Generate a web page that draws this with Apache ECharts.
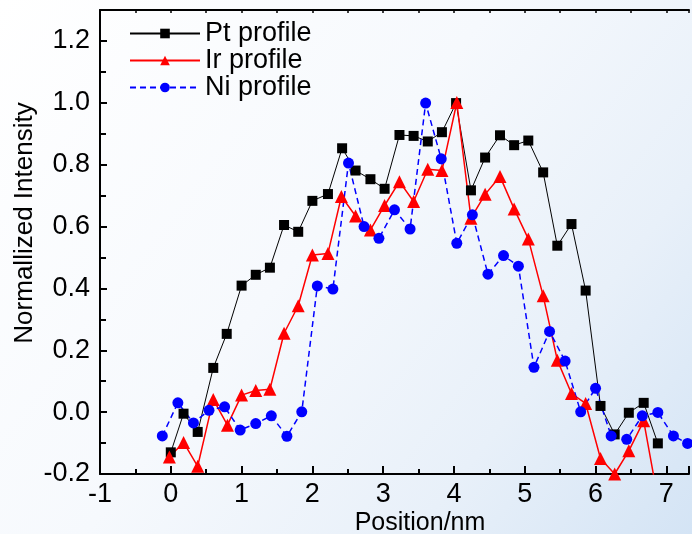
<!DOCTYPE html>
<html>
<head>
<meta charset="utf-8">
<script src="https://cdn.jsdelivr.net/npm/echarts@6/dist/echarts.min.js"></script>
<style>html,body{margin:0;padding:0;}#c{width:692px;height:534px;}</style>
</head>
<body>
<div id="c"></div>
<script>
var seriesNames = ['Pt profile', 'Ir profile', 'Ni profile'];
var ptX = [0, 0.18, 0.38, 0.6, 0.79, 1.0, 1.2, 1.4, 1.6, 1.8, 2.0, 2.22, 2.42, 2.61, 2.82, 3.02, 3.23, 3.43, 3.63, 3.83, 4.03, 4.24, 4.44, 4.65, 4.85, 5.05, 5.26, 5.46, 5.66, 5.86, 6.07, 6.27, 6.47, 6.68, 6.88];
var ptY = [-0.13, -0.005, -0.064, 0.143, 0.253, 0.409, 0.444, 0.467, 0.605, 0.583, 0.683, 0.705, 0.853, 0.781, 0.753, 0.722, 0.896, 0.893, 0.875, 0.905, 0.999, 0.717, 0.823, 0.895, 0.863, 0.878, 0.775, 0.538, 0.608, 0.393, 0.020, -0.072, -0.002, 0.030, -0.101];
var irX = [-0.02, 0.18, 0.38, 0.6, 0.8, 1.0, 1.2, 1.4, 1.6, 1.8, 2.0, 2.22, 2.41, 2.61, 2.82, 3.02, 3.23, 3.43, 3.63, 3.83, 4.04, 4.24, 4.44, 4.65, 4.85, 5.05, 5.26, 5.46, 5.66, 5.86, 6.07, 6.27, 6.47, 6.68, 6.88];
var irY = [-0.145, -0.098, -0.175, 0.041, -0.042, 0.055, 0.070, 0.074, 0.255, 0.344, 0.508, 0.513, 0.697, 0.634, 0.589, 0.668, 0.745, 0.681, 0.785, 0.781, 1.001, 0.627, 0.704, 0.762, 0.657, 0.560, 0.376, 0.168, 0.060, 0.028, -0.150, -0.2, -0.125, -0.028, -0.28];
var niX = [-0.12, 0.10, 0.32, 0.54, 0.76, 0.98, 1.2, 1.42, 1.64, 1.85, 2.07, 2.29, 2.51, 2.73, 2.94, 3.16, 3.38, 3.60, 3.82, 4.04, 4.26, 4.48, 4.70, 4.91, 5.13, 5.35, 5.57, 5.79, 6.0, 6.22, 6.44, 6.66, 6.88, 7.10, 7.30];
var niY = [-0.077, 0.030, -0.035, 0.006, 0.017, -0.058, -0.037, -0.012, -0.078, 0.001, 0.408, 0.398, 0.805, 0.600, 0.562, 0.654, 0.592, 0.999, 0.819, 0.546, 0.638, 0.446, 0.506, 0.472, 0.145, 0.261, 0.165, 0.001, 0.077, -0.077, -0.088, -0.012, -0.001, -0.077, -0.101];
var xName = 'Position/nm';
var yName = 'Normallized Intensity';

function pairs(xs, ys) { return xs.map(function (x, i) { return [x, ys[i]]; }); }

var FONT = '"Liberation Sans", Arial, sans-serif';
var X_MIN = -1, X_MAX = 7.32, Y_MIN = -0.2, Y_MAX = 1.3;

var chart = echarts.init(document.getElementById('c'), null, { renderer: 'canvas' });
chart.setOption({
  animation: false,
  backgroundColor: {
    type: 'linear', x: 0, y: 0, x2: 1, y2: 1,
    colorStops: [
      { offset: 0, color: '#ffffff' },
      { offset: 0.45, color: '#f6f9fd' },
      { offset: 0.75, color: '#e8f0f9' },
      { offset: 1, color: '#d4e4f5' }
    ]
  },
  grid: { left: 100, right: 0, top: 10, bottom: 60 },
  legend: {
    orient: 'vertical',
    left: 129, top: 20, padding: 0,
    itemWidth: 70, itemHeight: 12, itemGap: 0,
    textStyle: { fontFamily: FONT, fontSize: 27, color: '#000', lineHeight: 25 },
    data: seriesNames
  },
  xAxis: [
    {
      type: 'value', min: X_MIN, max: X_MAX, interval: 1, position: 'bottom',
      axisLine: { onZero: false, lineStyle: { color: '#000', width: 2 } },
      axisTick: { inside: true, length: 8, lineStyle: { color: '#000', width: 2 } },
      axisLabel: {
        color: '#000', fontFamily: FONT, fontSize: 27, margin: 7,
        formatter: function (v) { return Math.abs(v - Math.round(v)) < 1e-6 ? String(Math.round(v)) : ''; }
      },
      splitLine: { show: false }
    },
    {
      type: 'value', min: X_MIN, max: X_MAX, interval: 0.5, position: 'bottom',
      axisLine: { show: false, onZero: false },
      axisTick: { inside: true, length: 5, lineStyle: { color: '#000', width: 2 } },
      axisLabel: { show: false },
      splitLine: { show: false }
    },
    {
      type: 'value', min: X_MIN, max: X_MAX, interval: 0.5, position: 'top',
      axisLine: { onZero: false, lineStyle: { color: '#000', width: 2 } },
      axisTick: { inside: true, length: 3, lineStyle: { color: '#000', width: 1.5 } },
      axisLabel: { show: false },
      splitLine: { show: false }
    }
  ],
  yAxis: [
    {
      type: 'value', min: Y_MIN, max: Y_MAX, interval: 0.2, position: 'left',
      axisLine: { onZero: false, lineStyle: { color: '#000', width: 2 } },
      axisTick: { inside: true, length: 7, lineStyle: { color: '#000', width: 2 } },
      axisLabel: {
        color: '#000', fontFamily: FONT, fontSize: 27, margin: 10,
        formatter: function (v) { return v > 1.25 ? '' : v.toFixed(1); }
      },
      splitLine: { show: false }
    },
    {
      type: 'value', min: Y_MIN, max: Y_MAX, interval: 0.1, position: 'left',
      axisLine: { show: false, onZero: false },
      axisTick: { inside: true, length: 6, lineStyle: { color: '#000', width: 2 } },
      axisLabel: { show: false },
      splitLine: { show: false }
    }
  ],
  graphic: [
    {
      type: 'text', x: 420, y: 523,
      style: { text: xName, x: 0, y: 0, textAlign: 'center', textVerticalAlign: 'middle', fontFamily: FONT, fontSize: 25, fill: '#000' }
    },
    {
      type: 'text', x: 25, y: 223, rotation: Math.PI / 2,
      style: { text: yName, x: 0, y: 0, textAlign: 'center', textVerticalAlign: 'middle', fontFamily: FONT, fontSize: 26, fill: '#000' }
    }
  ],
  series: [
    {
      name: seriesNames[0], type: 'line', data: pairs(ptX, ptY),
      symbol: 'rect', symbolSize: 10,
      lineStyle: { color: '#000', width: 1 },
      itemStyle: { color: '#000' }
    },
    {
      name: seriesNames[1], type: 'line', data: pairs(irX, irY),
      symbol: 'triangle', symbolSize: 13,
      lineStyle: { color: '#ff0000', width: 1.5 },
      itemStyle: { color: '#ff0000' }
    },
    {
      name: seriesNames[2], type: 'line', data: pairs(niX, niY),
      symbol: 'circle', symbolSize: 11,
      lineStyle: { color: '#0000ff', width: 1.5, type: [6, 4] },
      itemStyle: { color: '#0000ff' }
    }
  ]
});
</script>
</body>
</html>
